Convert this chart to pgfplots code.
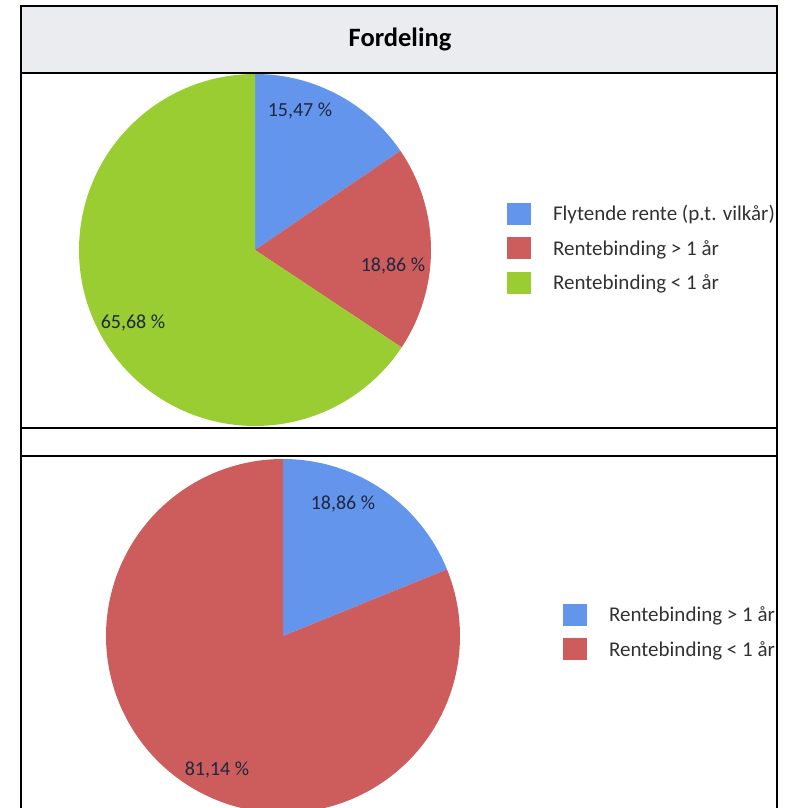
\documentclass[border=0pt]{standalone}
\usepackage{fontspec}
\setmainfont{Carlito}
\usepackage{pgfplots}
\pgfplotsset{compat=1.18}
\definecolor{cblue}{RGB}{100,149,237}
\definecolor{cred}{RGB}{205,92,92}
\definecolor{cgreen}{RGB}{154,205,50}
\definecolor{hdr}{RGB}{235,236,240}
\definecolor{lbl}{RGB}{30,40,62}
\definecolor{legtxt}{RGB}{50,50,50}
\pgfplotsset{
  piebase/.style={
    at={(0pt,0pt)}, anchor=south west,
    width=791pt, height=808pt, scale only axis,
    xmin=0, xmax=791, ymin=0, ymax=808,
    hide axis, clip=false,
    legend cell align=left,
    legend image code/.code={\fill[##1] (0pt,-11pt) rectangle (24pt,11pt);},
    legend style={draw=none, fill=none, inner sep=0pt, outer sep=0pt,
      row sep=12.5pt, column sep=22pt,
      nodes={inner sep=0pt, anchor=west, text=legtxt,
        font=\fontsize{21}{24}\selectfont}},
  },
}
\begin{document}
\begin{tikzpicture}[x=1pt,y=1pt]
\clip (0,0) rectangle (791,808);
% header cell
\fill[hdr] (21,802) rectangle (777,735);
\node[font=\fontsize{26.5}{30}\selectfont\bfseries] at (400,769) {Fordeling};
% top pie
\begin{axis}[piebase,
  legend style={at={(0.6410,0.7488)}, anchor=north west}]
  % Flytende rente 15,47 %
  \addplot[fill=cblue, draw=none, domain=34.308:90, samples=90]
    ({255+176*cos(x)}, {558+176*sin(x)}) -- (axis cs:255,558) -- cycle;
  \addlegendentry{Flytende rente (p.t. vilkår)}
  % Rentebinding > 1 aar 18,86 %
  \addplot[fill=cred, draw=none, domain=-33.588:34.308, samples=90]
    ({255+176*cos(x)}, {558+176*sin(x)}) -- (axis cs:255,558) -- cycle;
  \addlegendentry{Rentebinding > 1 år}
  % Rentebinding < 1 aar 65,68 %
  \addplot[fill=cgreen, draw=none, domain=-270:-33.588, samples=200]
    ({255+176*cos(x)}, {558+176*sin(x)}) -- (axis cs:255,558) -- cycle;
  \addlegendentry{Rentebinding < 1 år}
  \node[font=\fontsize{20}{24}\selectfont, text=lbl] at (axis cs:300,697) {15,47 \%};
  \node[font=\fontsize{20}{24}\selectfont, text=lbl] at (axis cs:393,542) {18,86 \%};
  \node[font=\fontsize{20}{24}\selectfont, text=lbl] at (axis cs:133,485) {65,68 \%};
\end{axis}
% bottom pie
\begin{scope}
\clip (21,0) rectangle (777,351);
\begin{axis}[piebase,
  legend style={at={(0.7118,0.2525)}, anchor=north west}]
  % Rentebinding > 1 aar 18,86 %
  \addplot[fill=cblue, draw=none, domain=22.104:90, samples=90]
    ({283+177*cos(x)}, {172+177*sin(x)}) -- (axis cs:283,172) -- cycle;
  \addlegendentry{Rentebinding > 1 år}
  % Rentebinding < 1 aar 81,14 %
  \addplot[fill=cred, draw=none, domain=-270:22.104, samples=250]
    ({283+177*cos(x)}, {172+177*sin(x)}) -- (axis cs:283,172) -- cycle;
  \addlegendentry{Rentebinding < 1 år}
  \node[font=\fontsize{20}{24}\selectfont, text=lbl] at (axis cs:343,304) {18,86 \%};
  \node[font=\fontsize{20}{24}\selectfont, text=lbl] at (axis cs:217,38) {81,14 \%};
\end{axis}
\end{scope}
% frame lines
\begin{scope}[line width=1.6pt, black]
\draw (21,-5) -- (21,802) -- (777,802) -- (777,-5);
\draw (21,735) -- (777,735);
\draw (21,380) -- (777,380);
\draw (21,352) -- (777,352);
\end{scope}
\end{tikzpicture}
\end{document}
